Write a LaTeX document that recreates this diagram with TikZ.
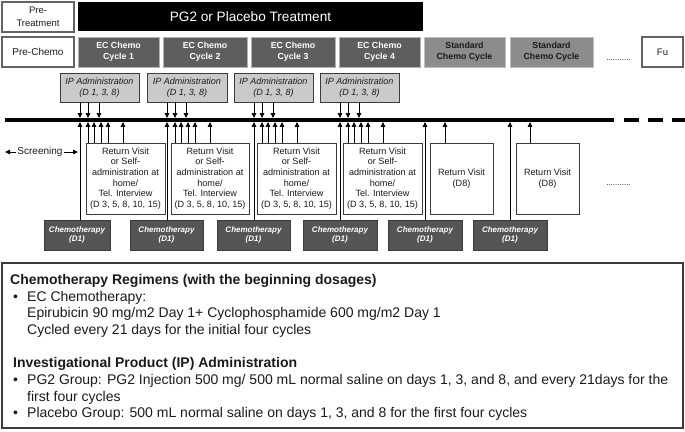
\documentclass[tikz,border=0pt]{standalone}
\usepackage{fontspec}
\setmainfont{Liberation Sans}
\usetikzlibrary{arrows.meta}
\definecolor{ecgray}{HTML}{5E5E5E}
\definecolor{stdgray}{HTML}{8C8C8C}
\definecolor{ipgray}{HTML}{CACACA}
\definecolor{chgray}{HTML}{555555}
\definecolor{edgec}{HTML}{3C3C3C}
\definecolor{txt}{HTML}{1A1A1A}
\newcommand\myfs[2]{\fontsize{#1}{#2}\selectfont}
\begin{document}
\begin{tikzpicture}[x=1pt,y=-1pt,
  wbox/.style={draw=edgec!80, line width=1.3pt, fill=white, inner sep=0pt, align=center, text=txt},
  ecbox/.style={fill=ecgray, draw=gray!60, line width=0.6pt, text=white, inner sep=0pt, align=center, minimum height=30pt, font=\myfs{8.8}{11}\bfseries},
  stdbox/.style={fill=stdgray, draw=gray!50, line width=0.6pt, text=txt, inner sep=0pt, align=center, minimum height=30pt, font=\myfs{8.8}{11}\bfseries},
  ipbox/.style={fill=ipgray, draw=edgec, line width=0.9pt, text=txt, inner sep=0pt, align=center, minimum height=29pt, font=\myfs{9}{11}\itshape},
  rvbox/.style={fill=white, draw=edgec, line width=1pt, text=txt, inner sep=0pt, align=center, minimum height=71pt, font=\myfs{9.1}{10.6}},
  chbox/.style={fill=chgray, draw=edgec, line width=0.9pt, text=white, inner sep=0pt, align=center, minimum height=30pt, font=\myfs{8}{9.5}\bfseries\itshape},
  arr/.style={-{Triangle[length=5pt,width=4.5pt]}, line width=0.8pt, draw=black},
  note/.style={anchor=base west, inner sep=0pt, text=txt, font=\myfs{14}{16}},
]
\useasboundingbox (0,0) rectangle (685,431);
% row 1
\node[wbox, minimum width=72pt, minimum height=30pt, font=\myfs{9.5}{12.5}] (pret) at (38,17) {Pre-\\Treatment};
\node[fill=black, text=white, inner sep=0pt, minimum width=345pt, minimum height=29pt, font=\myfs{13.6}{16}] (pg2) at (250.5,16.5) {PG2 or Placebo Treatment};
% row 2
\node[wbox, minimum width=72pt, minimum height=30pt, font=\myfs{10}{12}] (prec) at (38,52) {Pre-Chemo};
\node[ecbox, minimum width=81pt] (ec1) at (118.5,52) {EC Chemo\\Cycle 1};
\node[ecbox, minimum width=84pt] (ec2) at (205,52) {EC Chemo\\Cycle 2};
\node[ecbox, minimum width=84pt] (ec3) at (293,52) {EC Chemo\\Cycle 3};
\node[ecbox, minimum width=81pt] (ec4) at (379.5,52) {EC Chemo\\Cycle 4};
\node[stdbox, minimum width=81pt] (sc1) at (464.5,52) {Standard\\Chemo Cycle};
\node[stdbox, minimum width=83pt] (sc2) at (551.5,52) {Standard\\Chemo Cycle};
\node[inner sep=0pt, text=txt, font=\myfs{8}{9}] (dots1) at (618.5,60) {...........};
\node[wbox, line width=1.1pt, minimum width=41pt, minimum height=30pt, font=\myfs{9.5}{12}] (fu) at (662.5,52) {Fu};
% IP boxes
\node[ipbox, minimum width=79pt] (ip1) at (99.5,87.5) {IP Administration\\(D 1, 3, 8)};
\node[ipbox, minimum width=80pt] (ip2) at (187,87.5) {IP Administration\\(D 1, 3, 8)};
\node[ipbox, minimum width=79pt] (ip3) at (273.5,87.5) {IP Administration\\(D 1, 3, 8)};
\node[ipbox, minimum width=79pt] (ip4) at (359.5,87.5) {IP Administration\\(D 1, 3, 8)};
% timeline
\node[fill=black, inner sep=0pt, minimum width=609pt, minimum height=3.5pt] (tl) at (309.5,120) {};
\coordinate (dsA) at (624,120);
\coordinate (dsB) at (685,120);
\draw[line width=3.5pt, dash pattern=on 15pt off 9pt] (dsA) -- (dsB);
% screening
\node[inner sep=1pt, text=txt, font=\myfs{10}{12}] (scr) at (40,152) {Screening};
\coordinate (scrL) at (5,152);
\coordinate (scrR) at (78,152);
\draw[arr] (scr.west) -- (scrL);
\draw[arr] (scr.east) -- (scrR);
% return visit boxes
\node[rvbox, minimum width=79pt] (rv1) at (125.5,178.5) {Return Visit\\or Self-\\administration at\\home/\\Tel. Interview\\(D 3, 5, 8, 10, 15)};
\node[rvbox, minimum width=78pt] (rv2) at (210,178.5) {Return Visit\\or Self-\\administration at\\home/\\Tel. Interview\\(D 3, 5, 8, 10, 15)};
\node[rvbox, minimum width=79pt] (rv3) at (296.5,178.5) {Return Visit\\or Self-\\administration at\\home/\\Tel. Interview\\(D 3, 5, 8, 10, 15)};
\node[rvbox, minimum width=79pt] (rv4) at (382.5,178.5) {Return Visit\\or Self-\\administration at\\home/\\Tel. Interview\\(D 3, 5, 8, 10, 15)};
\node[rvbox, minimum width=63pt] (rv5) at (461.5,178.5) {Return Visit\\(D8)};
\node[rvbox, minimum width=63pt] (rv6) at (547.5,178.5) {Return Visit\\(D8)};
\node[inner sep=0pt, text=txt, font=\myfs{8}{9}] (dots2) at (618.5,185) {...........};
% chemotherapy boxes
\node[chbox, minimum width=66pt] (ch1) at (77,235) {Chemotherapy\\(D1)};
\node[chbox, minimum width=73pt] (ch2) at (166.5,235) {Chemotherapy\\(D1)};
\node[chbox, minimum width=73pt] (ch3) at (253.5,235) {Chemotherapy\\(D1)};
\node[chbox, minimum width=74pt] (ch4) at (340,235) {Chemotherapy\\(D1)};
\node[chbox, minimum width=74pt] (ch5) at (425,235) {Chemotherapy\\(D1)};
\node[chbox, minimum width=74pt] (ch6) at (510,235) {Chemotherapy\\(D1)};
% arrows
\foreach \k/\cx in {1/80,2/167,3/254,4/340}{
  \foreach \o in {0,8,19}{
    \coordinate (p) at (\cx+\o,0);
    \draw[arr] (ip\k.south -| p) -- (tl.north -| p);
  }
  \foreach \o in {8,14,21,28,43}{
    \coordinate (p) at (\cx+\o,0);
    \draw[arr] (rv\k.north -| p) -- (tl.south -| p);
  }
}
\foreach \k/\cx in {1/80,2/167,3/254,4/340,5/425,6/510}{
  \coordinate (p) at (\cx,0);
  \draw[arr] (ch\k.north -| p) -- (tl.south -| p);
}
\coordinate (d8a) at (445,0);
\coordinate (d8b) at (530,0);
\draw[arr] (rv5.north -| d8a) -- (tl.south -| d8a);
\draw[arr] (rv6.north -| d8b) -- (tl.south -| d8b);
% notes
\node[draw=edgec, line width=1.2pt, inner sep=0pt, minimum width=681pt, minimum height=165pt] (notes) at (342.5,345.5) {};
\node[note, font=\myfs{14}{16}\bfseries] (t1) at (10,284) {Chemotherapy Regimens (with the beginning dosages)};
\node[note] (b1) at (13,301) {•};
\node[note] (t2) at (27,301) {EC Chemotherapy:};
\node[note] (t3) at (27,317) {Epirubicin 90 mg/m2 Day 1+ Cyclophosphamide 600 mg/m2 Day 1};
\node[note] (t4) at (27,334) {Cycled every 21 days for the initial four cycles};
\node[note, font=\myfs{14}{16}\bfseries] (t5) at (13,367) {Investigational Product (IP) Administration};
\node[note] (b2) at (13,384) {•};
\node[note] (t6) at (27,384) {PG2 Group: PG2 Injection 500 mg/ 500 mL normal saline on days 1, 3, and 8, and every 21days for the};
\node[note] (t7) at (27,401) {first four cycles};
\node[note] (b3) at (13,417) {•};
\node[note] (t8) at (27,417) {Placebo Group: 500 mL normal saline on days 1, 3, and 8 for the first four cycles};
\end{tikzpicture}
\end{document}
